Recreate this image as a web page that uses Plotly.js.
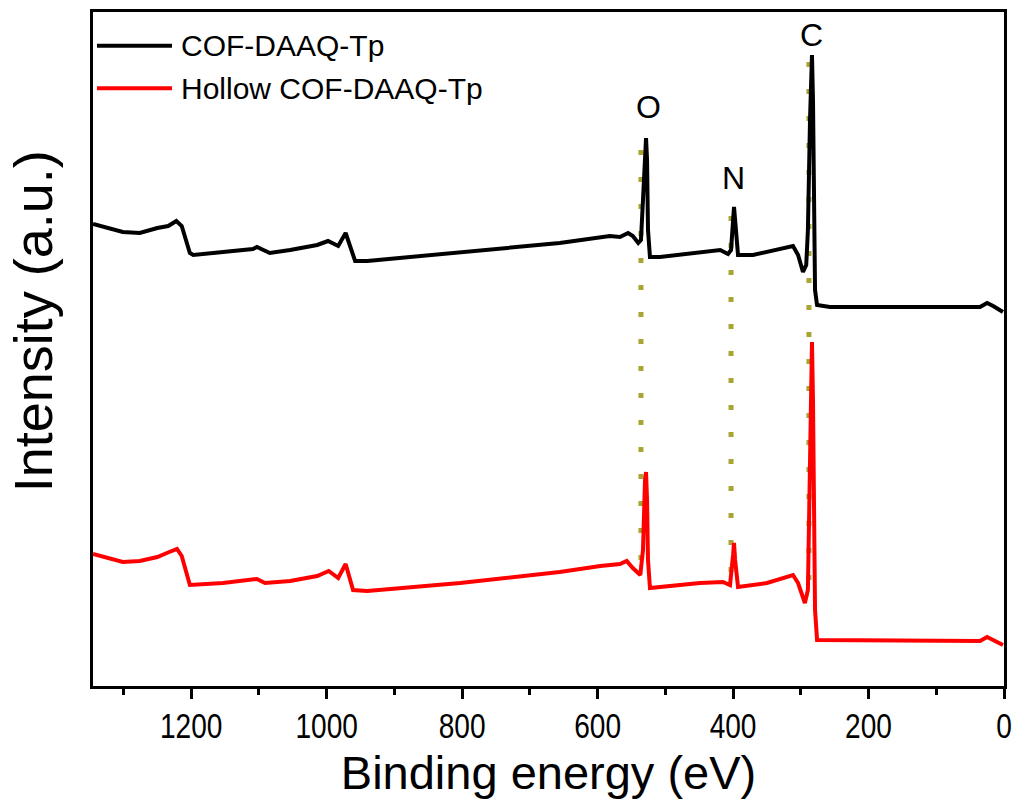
<!DOCTYPE html>
<html>
<head>
<meta charset="utf-8">
<script src="https://cdn.plot.ly/plotly-3.0.1.min.js"></script>
<style>html,body{margin:0;padding:0;background:#fff;}#chart{width:1018px;height:800px;}</style>
</head>
<body>
<div id="chart"></div>
<script>
// Binding energy (eV) and intensity (a.u.)
const energyCOF = [1345,1301,1276,1250,1234,1222,1214,1202,1197,1153,1109,1103,1084,1054,1014,998,983,972,966,958,940,803,656,582,567,555,548,540,536,533,530,528.5,527,525.6,522.7,508,419,407.5,403,400,398.6,397,394,392.7,370.6,320.4,311.5,304,296.8,292,289.5,286.4,283.5,282,280.5,279,276,257,153.5,35.4,25,16,1.5];
const intensityCOF = [462,454,453,458,460,465,460,433,431,434,437,439,433,436,441,445,440,453,441,425,425,434,443,450,449,453,450,443,446,486,541,548,526,456,429,429,436,432,436,471,479,466,434,431,431,439,440,431,414,421,456,566,631,586,486,396,381,379,379,379,383,380,374];

const energyHollow = [1345,1301,1276,1250,1236,1221,1214,1202,1153,1103,1091,1054,1014,997,983,972,961,940,803,656,596,567,557,548,537,533,530,528.5,527,525.6,522.7,449,415,404.5,400,398.6,397,394,392.7,350,311.5,304,294,289.5,286.4,283.5,282,280.5,279,276,153.5,35.4,25,16,1.5];
const intensityHollow = [132,124,125,129,133,137,130,101,103,107,103,105,110,115,108,122,96,95,103,114,120,122,125,118,111,136,206,214,186,126,98,103,104,101,131,143,126,101,99,103,111,103,83,96,236,344,286,166,76,46,45,45,49,46,41];

const seriesNames = ['COF-DAAQ-Tp', 'Hollow COF-DAAQ-Tp'];
const seriesColors = ['#000000', '#ff0000'];

// Peak guide lines: element label, energy, line top/bottom intensity, label position
const peakLabels = ['O', 'N', 'C'];
const peakEnergy = [536, 403, 288];
const peakLineTop = [541, 474, 629];
const peakLineBottom = [126, 114, 106];
const peakLabelEnergy = [525.6, 400, 283.5];
const peakLabelIntensity = [579, 508, 651];

const yTitle = 'Intensity (a.u.)';
const xTitle = 'Binding energy (eV)';

const FONT = 'Arial, "Liberation Sans", sans-serif';

const traces = [
  {x: energyCOF, y: intensityCOF, name: seriesNames[0], type: 'scatter', mode: 'lines',
   line: {color: seriesColors[0], width: 4}, showlegend: false},
  {x: energyHollow, y: intensityHollow, name: seriesNames[1], type: 'scatter', mode: 'lines',
   line: {color: seriesColors[1], width: 4}, showlegend: false}
];

const shapes = [];
const annotations = [];
peakLabels.forEach((lab, i) => {
  shapes.push({type: 'line', xref: 'x', yref: 'y', x0: peakEnergy[i], x1: peakEnergy[i],
    y0: peakLineBottom[i], y1: peakLineTop[i],
    line: {color: '#a8a530', width: 5, dash: '5px,22px'}, layer: 'below'});
  annotations.push({xref: 'x', yref: 'y', x: peakLabelEnergy[i], y: peakLabelIntensity[i],
    text: lab, showarrow: false, font: {family: FONT, size: 32, color: '#000'},
    xanchor: 'center', yanchor: 'middle'});
});

// legend drawn with long line samples as in the reference
seriesNames.forEach((nm, i) => {
  const yy = i === 0 ? 0.950 : 0.887;
  shapes.push({type: 'line', xref: 'paper', yref: 'paper', x0: 0.0044, x1: 0.0867, y0: yy, y1: yy,
    line: {color: seriesColors[i], width: 4}});
  annotations.push({xref: 'paper', yref: 'paper', x: 0.094, y: yy, text: nm, showarrow: false,
    xanchor: 'left', yanchor: 'middle', font: {family: FONT, size: 30, color: '#000'}});
});

// y-axis title (placed slightly above the axis centre, as in the reference)
annotations.push({xref: 'paper', yref: 'paper', x: -0.0655, y: 0.5415, text: yTitle,
  textangle: -90, showarrow: false, xanchor: 'center', yanchor: 'middle',
  font: {family: FONT, size: 54, color: '#000'}});

const layout = {
  width: 1018, height: 800,
  margin: {l: 93, r: 14, t: 12, b: 114},
  paper_bgcolor: '#fff', plot_bgcolor: '#fff',
  font: {family: FONT, color: '#000'},
  xaxis: {
    range: [1345, 0], autorange: false,
    tick0: 0, dtick: 200, ticks: 'outside', ticklen: 10, tickwidth: 3, tickcolor: '#000',
    minor: {dtick: 100, ticks: 'outside', ticklen: 6, tickwidth: 3, tickcolor: '#000'},
    showline: true, linewidth: 3, linecolor: '#000', mirror: true,
    showgrid: false, zeroline: false,
    tickfont: {family: FONT, size: 36, color: '#000'},
    ticklabelstandoff: -4,
    title: {text: xTitle, font: {family: FONT, size: 47, color: '#000'}, standoff: 2}
  },
  yaxis: {
    range: [0, 674], autorange: false,
    showticklabels: false, ticks: '',
    showline: true, linewidth: 3, linecolor: '#000', mirror: true,
    showgrid: false, zeroline: false
  },
  shapes: shapes,
  annotations: annotations,
  showlegend: false
};

// narrow the tick-label glyphs horizontally, as in the reference typeface
function squeeze(gd, selector, sx) {
  gd.querySelectorAll(selector).forEach(el => {
    const b = el.getBBox();
    const cx = b.x + b.width / 2;
    const t = el.getAttribute('transform') || '';
    el.setAttribute('transform', t + ' translate(' + cx + ',0) scale(' + sx + ',1) translate(' + (-cx) + ',0)');
  });
}

Plotly.newPlot('chart', traces, layout, {displayModeBar: false, staticPlot: true}).then(gd => {
  squeeze(gd, '.xtick text', 0.78);
});
</script>
</body>
</html>
